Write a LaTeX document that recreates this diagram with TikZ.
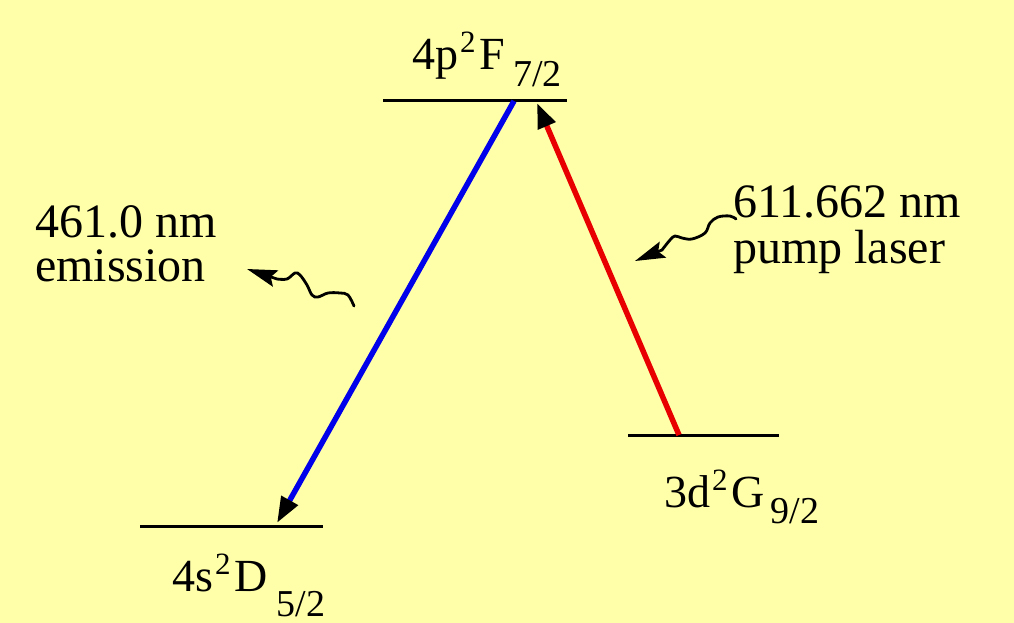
\documentclass[tikz,border=0pt]{standalone}
\usepackage{fontspec}
\setmainfont{Liberation Serif}
\usetikzlibrary{arrows.meta}
\definecolor{bg}{RGB}{255,255,170}
\definecolor{myblue}{RGB}{0,0,235}
\definecolor{myred}{RGB}{232,0,0}
\newcommand{\bigtxt}{\fontsize{48}{46}\selectfont}
\newcommand{\lvltxt}[5]{{\fontsize{46}{46}\selectfont #1\hspace{2pt}\raisebox{17pt}{\fontsize{31}{31}\selectfont 2}\hspace{4pt}#2\hspace{#3pt}\raisebox{-#4pt}{\fontsize{38}{38}\selectfont #5}}}
\tikzset{
  level/.style={draw=black, line width=3pt},
  lbl/.style={anchor=base west, inner sep=0pt, font=\bigtxt},
  lvllbl/.style={anchor=base west, inner sep=0pt},
  transup/.style={draw=myred, line width=5.5pt, -{Triangle[length=25pt,width=18pt,color=black]}},
  transdown/.style={draw=myblue, line width=5.5pt, -{Triangle[length=26pt,width=18pt,color=black]}},
  squiggle/.style={draw=black, line width=2.8pt, line cap=round, -{Stealth[length=30pt,width=17pt,inset=5pt]}}
}
\begin{document}
\begin{tikzpicture}[x=1pt,y=-1pt]
\fill[bg] (0,0) rectangle (1014,623);
\useasboundingbox (0,0) rectangle (1014,623);
% levels
\coordinate (Fl) at (383,101); \coordinate (Fr) at (567,101);
\coordinate (Dl) at (140,526); \coordinate (Dr) at (323,526);
\coordinate (Gl) at (628,435); \coordinate (Gr) at (779,435);
\draw[level] (Fl) -- (Fr);
\draw[level] (Dl) -- (Dr);
\draw[level] (Gl) -- (Gr);
% level labels
\node[lvllbl] (Flab) at (412,70) {\lvltxt{4p}{F}{8}{17}{7/2}};
\node[lvllbl] (Dlab) at (172,591) {\lvltxt{4s}{D}{9}{25}{5/2}};
\node[lvllbl] (Glab) at (664,507) {\lvltxt{3d}{G}{6}{16}{9/2}};
% transitions
\coordinate (Fb) at (514,101); \coordinate (Dt) at (277,523);
\coordinate (Gt) at (679,435); \coordinate (Ft) at (537,103);
\draw[transdown] (Fb) -- (Dt);
\draw[transup] (Gt) -- (Ft);
% text labels
\node[lbl] (em1) at (35,237) {461.0 nm};
\node[lbl] (em2) at (35,281) {emission};
\node[lbl] (pu1) at (733,217) {611.662 nm};
\node[lbl] (pu2) at (733,263) {pump laser};
% squiggly arrows
\coordinate (s1tip) at (247,269);
\coordinate (s2tip) at (635,261);
\draw[squiggle] plot[smooth, tension=0.6] coordinates {(354,306) (348,295) (340,293) (328,293) (318,297) (312,295) (307,285) (300,275) (295,273) (287,279) (277,279)} -- (s1tip);
\draw[squiggle] plot[smooth, tension=0.6] coordinates {(736,219) (730,216) (718,217) (710,223) (705,233) (692,239) (682,238) (675,236) (670,240) (662,250)} -- (s2tip);
\end{tikzpicture}
\end{document}
